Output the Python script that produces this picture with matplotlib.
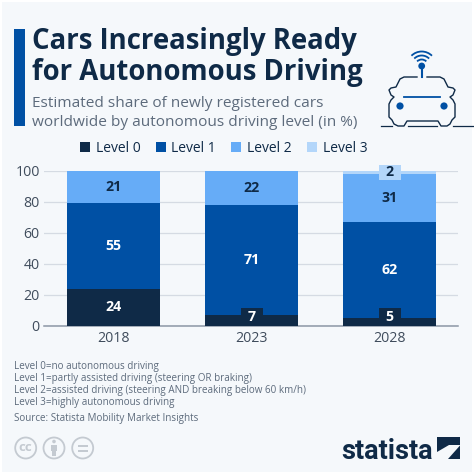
import matplotlib
matplotlib.use('Agg')
import matplotlib.pyplot as plt
from matplotlib.patches import Rectangle, Circle, Arc
import numpy as np

years = ['2018', '2023', '2028']
niveles = ['Level 0', 'Level 1', 'Level 2', 'Level 3']
level0 = [24, 7, 5]
level1 = [55, 71, 62]
level2 = [21, 22, 31]
level3 = [0, 0, 2]
series = [level0, level1, level2, level3]
colores = ['#0f2a47', '#0050a4', '#66acf7', '#b3d6fa']
color_texto = ['white', 'white', '#0f2a47', '#0f2a47']
y_ticks = [0, 20, 40, 60, 80, 100]

notas = ['Level 0=no autonomous driving',
         'Level 1=partly assisted driving (steering OR braking)',
         'Level 2=assisted driving (steering AND breaking below 60 km/h)',
         'Level 3=highly autonomous driving']
fuente = 'Source: Statista Mobility Market Insights'

plt.rcParams['font.family'] = ['Open Sans', 'DejaVu Sans']
fondo = '#f5f8fb'
oscuro = '#0f2a47'
gris = '#5d6b7c'

fig = plt.figure(figsize=(4.74, 4.74), dpi=100, facecolor='white')

# capa en pixeles para todo lo que no es el grafico
bg = fig.add_axes([0, 0, 1, 1], zorder=0)
bg.set_xlim(0, 474)
bg.set_ylim(474, 0)
bg.axis('off')
bg.add_patch(Rectangle((2, 2), 470, 470, color=fondo, lw=0))
bg.add_patch(Rectangle((14, 29), 11, 97, color='#0050a4', lw=0))

bg.text(32, 49, 'Cars Increasingly Ready', fontsize=19.8, fontweight='bold', color=oscuro, va='baseline')
bg.text(32, 80, 'for Autonomous Driving', fontsize=19.8, fontweight='bold', color=oscuro, va='baseline')
bg.text(32, 107, 'Estimated share of newly registered cars', fontsize=11.1, color=gris, va='baseline')
bg.text(32, 126, 'worldwide by autonomous driving level (in %)', fontsize=11.1, color=gris, va='baseline')

for i, nota in enumerate(notas):
    bg.text(14, 369.5 + i * 11.9, nota, fontsize=7.1, color=gris, va='baseline')
bg.text(14, 420.5, fuente, fontsize=7.1, color=gris, va='baseline')

# icono del coche
azul = '#0050a4'
bg.plot([381, 392], [125.5, 125.5], color=oscuro, lw=0.9)
bg.plot([408, 437], [125.5, 125.5], color=oscuro, lw=0.9)
bg.plot([453, 474], [125.5, 125.5], color=oscuro, lw=0.9)
cuerpo_x = [417, 404, 400, 396, 391, 389, 391, 394, 391, 389, 389, 392, 394, 398, 404, 407, 438, 441, 447, 450, 452, 455, 455, 453, 450, 453, 455, 453, 448, 444, 440, 427]
cuerpo_y = [77, 77, 79, 87, 88, 90, 95, 97, 100, 104, 117, 120, 124, 126, 126, 121, 121, 126, 126, 124, 120, 117, 104, 100, 97, 95, 90, 88, 87, 79, 77, 77]
bg.plot(cuerpo_x, cuerpo_y, color=oscuro, lw=1.0, solid_joinstyle='round')
bg.plot([404, 440], [97, 97], color=azul, lw=1.3)
bg.add_patch(Circle((400, 106), 3.6, color=azul, lw=0))
bg.add_patch(Circle((444, 106), 3.6, color=azul, lw=0))
bg.add_patch(Circle((421.7, 66), 3.4, color=azul, lw=0))
bg.plot([421.7, 421.7], [66, 77], color=azul, lw=1.5)
for r in [6.5, 10.5, 14.5]:
    bg.add_patch(Arc((421.7, 66), 2 * r, 2 * r, theta1=225, theta2=315, color=azul, lw=1.3))

# iconos cc
gris_cc = '#c4cad1'
for cx in [25.7, 54, 82.7]:
    bg.add_patch(Circle((cx, 448), 10.5, fill=False, ec=gris_cc, lw=1.3))
bg.text(25.7, 447.5, 'cc', fontsize=9.5, fontweight='bold', color=gris_cc, ha='center', va='center')
bg.add_patch(Circle((54, 441.5), 1.8, color=gris_cc, lw=0))
bg.add_patch(Rectangle((51, 444.5), 6, 6, color=gris_cc, lw=0))
bg.add_patch(Rectangle((52.3, 450), 3.4, 5.5, color=gris_cc, lw=0))
bg.add_patch(Rectangle((77.7, 444.5), 10, 2, color=gris_cc, lw=0))
bg.add_patch(Rectangle((77.7, 449.5), 10, 2, color=gris_cc, lw=0))

# logo
bg.text(341.5, 459, 'statista', fontsize=19.5, fontweight='bold', color=oscuro, va='baseline', family=['Roboto', 'Open Sans'])
bg.fill([437, 460, 460, 449, 437], [437, 437, 445, 445, 452], color=oscuro, lw=0)
bg.fill([437, 448, 460, 460, 437], [459, 459, 445.5, 459, 459], color=oscuro, lw=0)

# grafico
ax = fig.add_axes([44 / 474, 1 - 325.7 / 474, 414 / 474, 155 / 474], zorder=1)
ax.patch.set_alpha(0)
x = np.arange(len(years))
abajo = np.zeros(len(years))
ancho_caja = 22 / 138
for serie, nivel, color, ctexto in zip(series, niveles, colores, color_texto):
    ax.bar(x, serie, 0.675, bottom=abajo, color=color, label=nivel, zorder=3, clip_on=False)
    for xi, v, b in zip(x, serie, abajo):
        if v == 0:
            continue
        yc = b + v / 2
        if v < 10:
            # etiqueta con caja del color de la serie
            if nivel == 'Level 0':
                yc = 5.6
            alto = 2 * yc if nivel == 'Level 0' else 10
            ax.add_patch(Rectangle((xi - ancho_caja / 2, yc - alto / 2), ancho_caja, alto, color=color, lw=0, zorder=4, clip_on=False))
        ax.text(xi, yc, str(v), color=ctexto, fontsize=10.2, fontweight='bold', ha='center', va='center', zorder=5, clip_on=False)
    abajo += np.array(serie)

ax.set_xlim(-0.504, 2.496)
ax.set_ylim(0, 100)
ax.set_xticks(x, years)
ax.set_yticks(y_ticks)
ax.tick_params(axis='both', length=0, labelsize=10.2, labelcolor='#3f4c5c')
ax.tick_params(axis='x', pad=4)
ax.tick_params(axis='y', pad=3)
ax.grid(axis='y', color='#d5dbe3', lw=0.9, zorder=1)
ax.set_axisbelow(True)
for s in ['top', 'right', 'left']:
    ax.spines[s].set_visible(False)
ax.spines['bottom'].set_color('#8c97a5')
ax.spines['bottom'].set_linewidth(1.1)

ax.legend(loc='lower left', bbox_to_anchor=(80 / 474, 1 - 156 / 474), bbox_transform=fig.transFigure, ncol=4, frameon=False,
          fontsize=10, labelcolor=oscuro, handlelength=0.72, handleheight=0.72, handletextpad=0.41,
          columnspacing=1.1, borderpad=0, borderaxespad=0)

fig.savefig('out.png', dpi=100, facecolor='white')
